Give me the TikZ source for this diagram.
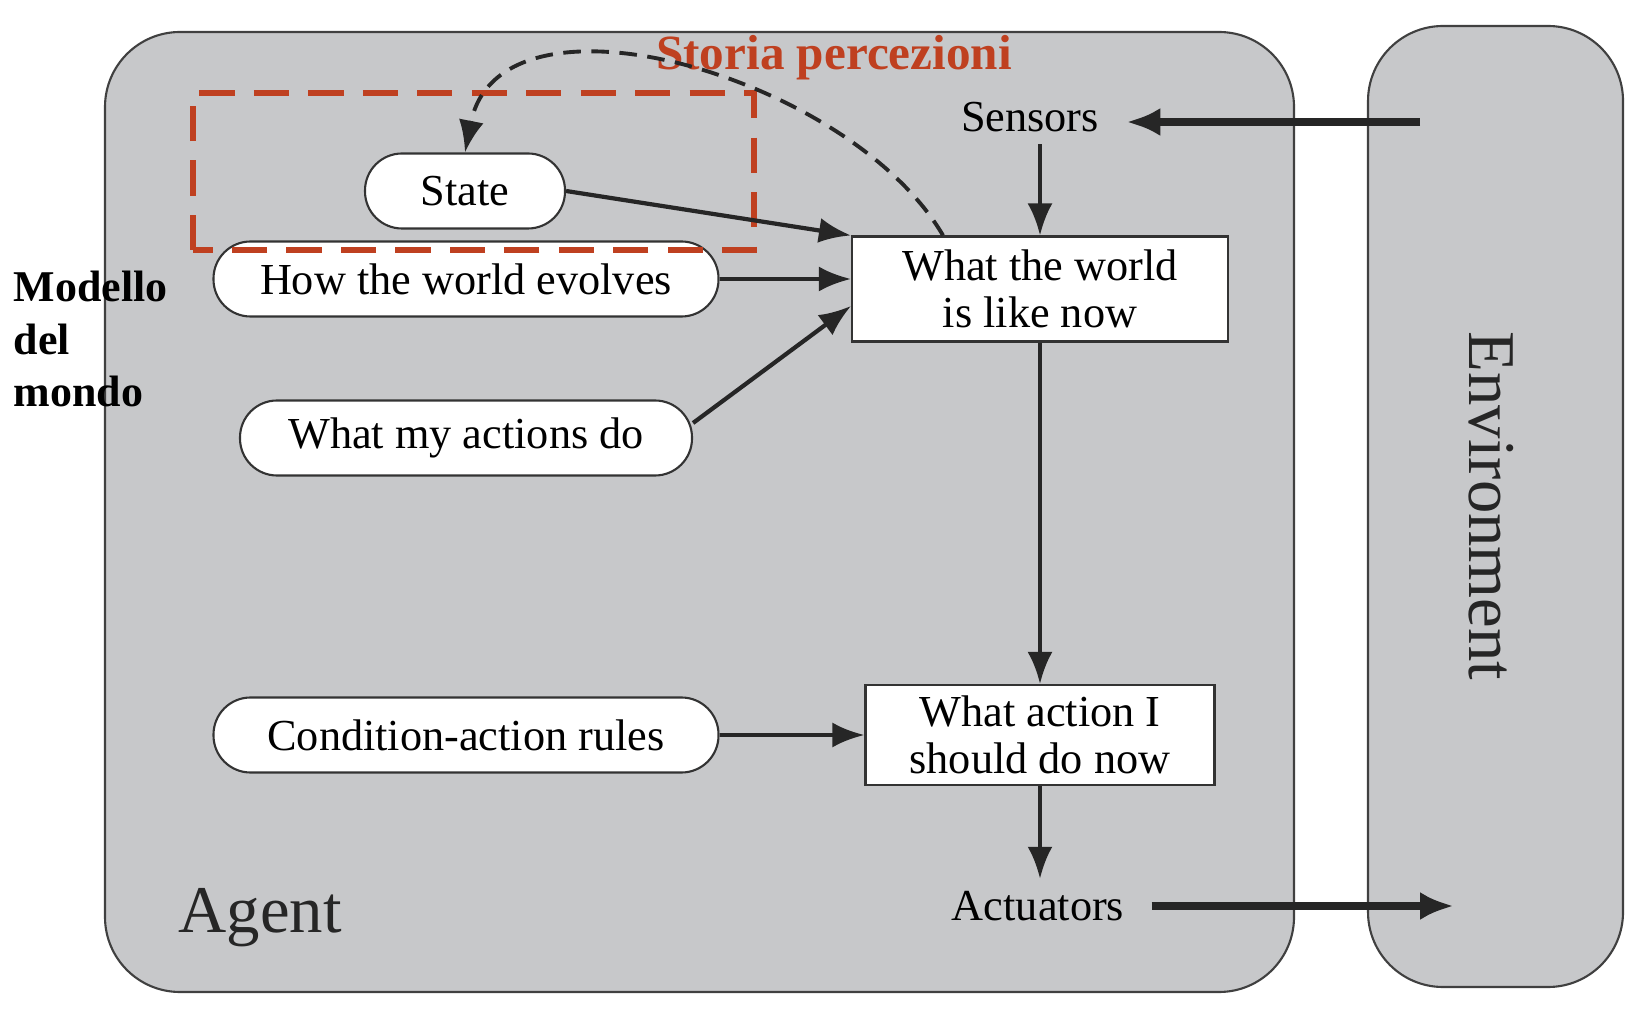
\documentclass[tikz,border=0pt]{standalone}
\usepackage{fontspec}
\setmainfont{Liberation Serif}
\usetikzlibrary{arrows.meta}
\definecolor{agentgray}{RGB}{199,200,202}
\definecolor{storiared}{RGB}{191,64,32}

\begin{document}
\begin{tikzpicture}[every node/.style={font=\fontsize{12.6}{13.2}\selectfont}, >={Latex[length=3.2mm, width=2.5mm]}, pill/.style={draw=black!80, line width=0.6pt, fill=white, rounded corners=3.7mm, minimum height=0.75cm, inner sep=0pt}, box/.style={draw=black!80, line width=0.6pt, fill=white, align=center, inner sep=0pt}, arr/.style={->, line width=1.2pt, black!85}, big/.style={->, line width=2.2pt, black!85, >={Latex[length=3.4mm, width=2.8mm]}}]
	\useasboundingbox (0,0) rectangle (16.52,10.16);
	\draw[draw=black!75, line width=0.6pt, fill=agentgray, rounded corners=0.75cm] (1.05,0.24) rectangle (12.94,9.84);
	\draw[draw=black!75, line width=0.6pt, fill=agentgray, rounded corners=0.75cm] (13.68,0.29) rectangle (16.23,9.90);
	\node[rotate=-90, font=\fontsize{19}{21}\selectfont, black!85] (env) at (14.91,5.10) {Environment};
	\node[font=\fontsize{19}{21}\selectfont, black!85] (agent) at (2.60,0.98) {Agent};
	\node[pill, minimum width=2.0cm] (st) at (4.65,8.25) {State};
	\node[pill, minimum width=5.05cm] (evo) at (4.66,7.37) {How the world evolves};
	\node[pill, minimum width=4.52cm] (acts) at (4.66,5.78) {What my actions do};
	\node[pill, minimum width=5.05cm] (rules) at (4.66,2.81) {Condition-action rules};
	\node[box, minimum width=3.76cm, minimum height=1.05cm] (now) at (10.40,7.27) {What the world\\ is like now};
	\node[box, minimum width=3.49cm, minimum height=1.0cm] (act) at (10.40,2.81) {What action I\\ should do now};
	\node (sens) at (10.30,8.99) {Sensors};
	\node (actu) at (10.38,1.10) {Actuators};
	\node[font=\fontsize{14}{16}\selectfont\bfseries, storiared] (storia) at (8.34,9.58) {Storia percezioni};
	\node[anchor=west, align=left, inner sep=0pt, font=\fontsize{12.5}{15}\selectfont\bfseries] (modello) at (0.13,6.77) {Modello\\ del\\ mondo};
	\draw[storiared, line width=1.8pt, dash pattern=on 10pt off 5.5pt] (1.93,7.66) rectangle (7.54,9.23);
	\coordinate (envin) at (14.20,8.94);
	\coordinate (envout) at (14.54,1.10);
	\draw[big, shorten >=1.5mm] (envin) -- (envin -| sens.east);
	\draw[big, shorten <=1.5mm] (actu.east) -- (envout);
	\draw[arr] (sens.south -| now.north) -- (now.north);
	\draw[arr] (st.east) -- (now.north west);
	\draw[arr] (evo.east) -- (evo.east -| now.west);
	\draw[arr] ([yshift=1.5mm]acts.east) -- ([yshift=-1.7mm]now.west);
	\draw[arr] (now.south) -- (act.north);
	\draw[arr] (rules.east) -- (act.west);
	\draw[arr] (act.south) -- (act.south |- actu.north);
	\draw[->, line width=1.1pt, black!85, dash pattern=on 5pt off 3pt] ([xshift=-0.97cm]now.north) .. controls (8.5,9.4) and (5.0,10.4) .. (st.north);
\end{tikzpicture}
\end{document}
